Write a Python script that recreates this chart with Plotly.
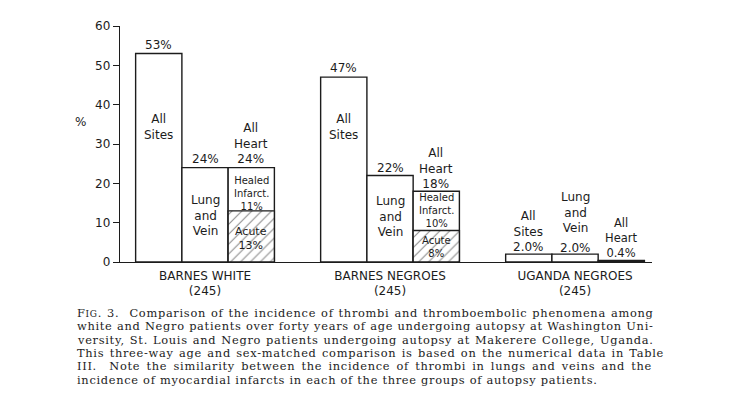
import plotly.graph_objects as go

# ---------------- data ----------------
groups = ["BARNES WHITE", "BARNES NEGROES", "UGANDA NEGROES"]
n_cases = [245, 245, 245]
all_sites = [53, 47, 2.0]
lung_vein = [24, 22, 2.0]
all_heart = [24, 18, 0.4]
heart_acute = [13, 8, None]
heart_healed = [11, 10, None]
y_ticks = [0, 10, 20, 30, 40, 50, 60]

caption_lines = [
    "FIG. 3.  Comparison of the incidence of thrombi and thromboembolic phenomena among",
    "white and Negro patients over forty years of age undergoing autopsy at Washington Uni-",
    "versity, St. Louis and Negro patients undergoing autopsy at Makerere College, Uganda.",
    "This three-way age and sex-matched comparison is based on the numerical data in Table",
    "III.  Note the similarity between the incidence of thrombi in lungs and veins and the",
    "incidence of myocardial infarcts in each of the three groups of autopsy patients.",
]

cats = [f"{g}<br>({n})" for g, n in zip(groups, n_cases)]
INK = "#1c1c1c"
LFONT = "DejaVu Sans"


def pct(v):
    return f"{v:.1f}%" if v < 5 else f"{v:.0f}%"


fig = go.Figure()
common = dict(marker_color="white", marker_line_color=INK, marker_line_width=1.4,
              showlegend=False, hoverinfo="skip")
fig.add_bar(x=cats, y=all_sites, offsetgroup="sites", **common)
fig.add_bar(x=cats, y=lung_vein, offsetgroup="lung", **common)
fig.add_bar(x=cats, y=all_heart, offsetgroup="heart", **common)
fig.add_bar(x=cats, y=heart_acute, offsetgroup="heart",
            marker=dict(color="white", line=dict(color=INK, width=1.4),
                        pattern=dict(shape="/", fgcolor=INK, bgcolor="white",
                                     size=7, solidity=0.16)),
            showlegend=False, hoverinfo="skip")

BW = 46.25  # pixel offset between bars within a group
anns = []


def label(gi, slot, y, lines, shift=0, size=12):
    anns.append(dict(x=cats[gi], y=y, xref="x", yref="y", text="<br>".join(lines),
                     xshift=(slot - 1) * BW, yshift=shift, yanchor="middle",
                     showarrow=False, font=dict(family=LFONT, size=size, color=INK)))


def above(gi, slot, v, lines, gap=8, size=12):
    # block whose last line sits `gap` px above the bar top
    label(gi, slot, v, lines, gap + (len(lines) - 1) * 1.3 * size / 2, size)


# Barnes White
g = 0
above(g, 0, all_sites[g], [pct(all_sites[g])], 8.5)
label(g, 0, 34.4, ["All", "Sites"])
above(g, 1, lung_vein[g], [pct(lung_vein[g])], 8.5)
label(g, 1, 11.8, ["Lung", "and", "Vein"])
above(g, 2, all_heart[g], ["All", "Heart", pct(all_heart[g])], 8.5)
label(g, 2, 17.4, ["Healed", "Infarct.", pct(heart_healed[g])], size=10)
label(g, 2, 6.1, ["Acute", pct(heart_acute[g])], size=11)

# Barnes Negroes
g = 1
above(g, 0, all_sites[g], [pct(all_sites[g])], 9.5)
label(g, 0, 34.3, ["All", "Sites"])
above(g, 1, lung_vein[g], [pct(lung_vein[g])], 7)
label(g, 1, 11.6, ["Lung", "and", "Vein"])
above(g, 2, all_heart[g], ["All", "Heart", pct(all_heart[g])], 7)
label(g, 2, 13.0, ["Healed", "Infarct.", pct(heart_healed[g])], size=10)
label(g, 2, 3.9, ["Acute", pct(heart_acute[g])], size=10)

# Uganda Negroes
g = 2
above(g, 0, all_sites[g], ["All", "Sites", pct(all_sites[g])], 7)
above(g, 1, lung_vein[g], ["Lung", "and", "Vein"], 26)
above(g, 1, lung_vein[g], [pct(lung_vein[g])], 6.5)
above(g, 2, all_heart[g], ["All", "Heart", pct(all_heart[g])], 7.5, size=11.5)

# y-axis "%" label
anns.append(dict(x=-0.075, y=35.6, xref="paper", yref="y", text="%", showarrow=False,
                 xanchor="center", font=dict(family=LFONT, size=12, color=INK)))


# caption: tracked serif text, justified by per-line word spacing
def styled(text, ls, ws):
    st = f"letter-spacing:{ls}px;word-spacing:{ws}px"
    if text.startswith("FIG."):
        return (f"<span style='{st}'>F</span>"
                f"<span style='{st};font-size:9px'>IG</span>"
                f"<span style='{st}'>{text[3:]}</span>")
    return f"<span style='{st}'>{text}</span>"


letter_sp = 0.7
word_sp = [0.7, 0.1, 0.7, 1.1, 1.9, 0]
for i, ln in enumerate(caption_lines):
    anns.append(dict(x=-0.0846, y=0, xref="paper", yref="paper", xanchor="left",
                     yanchor="middle", yshift=-(51 + 13.3 * i),
                     text=styled(ln, letter_sp, word_sp[i]),
                     showarrow=False, align="left",
                     font=dict(family="DejaVu Serif", size=11.4, color=INK)))

fig.update_layout(
    width=741, height=414,
    margin=dict(l=112, r=97, t=18, b=160),
    paper_bgcolor="white", plot_bgcolor="white",
    barmode="group", bargap=0.25, bargroupgap=0,
    annotations=anns,
    font=dict(family=LFONT, color=INK),
)
fig.update_xaxes(type="category", range=[-0.4595, 2.416], showline=True, linecolor=INK,
                 linewidth=1.4, ticks="", showgrid=False, zeroline=False,
                 ticklabelstandoff=2,
                 tickfont=dict(family=LFONT, size=12, color=INK))
fig.update_yaxes(range=[0, 60], tickvals=y_ticks, showline=True, linecolor=INK,
                 linewidth=1.4, ticks="outside", ticklen=6, tickwidth=1.4,
                 tickcolor=INK, showgrid=False, zeroline=False,
                 tickfont=dict(family=LFONT, size=12, color=INK))

fig.write_html("out.html")
